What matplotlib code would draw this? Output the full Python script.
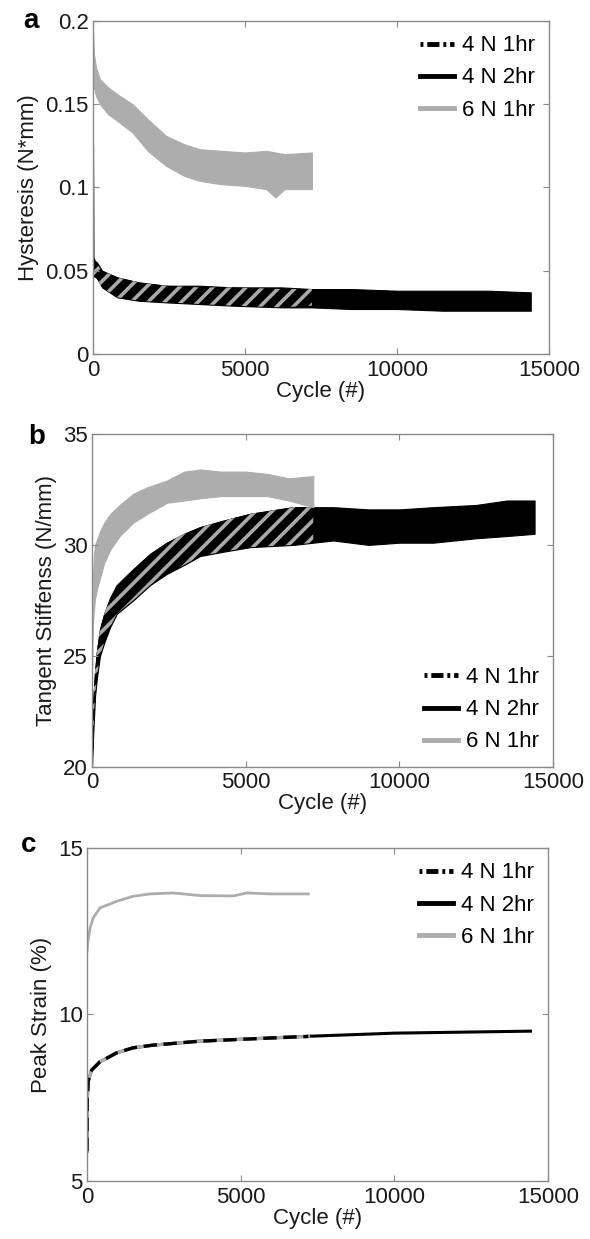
import numpy as np
import matplotlib
matplotlib.use("Agg")
import matplotlib.pyplot as plt
from matplotlib.lines import Line2D

plt.rcParams['font.family'] = ['Liberation Sans', 'DejaVu Sans']
plt.rcParams['hatch.linewidth'] = 2.6

GRAY = '#adadad'
STRIPE = '#a9a9a9'
SPINE = '#8a8a8a'
FS = 16

labels = ['4 N 1hr', '4 N 2hr', '6 N 1hr']

# ---- panel a: hysteresis (band = lower/upper envelope of noisy trace)
a_6n_cyc = [0, 30, 100, 230, 500, 800, 1300, 1800, 2400, 3000, 3500, 4200, 5000, 5700, 6000, 6300, 7200]
a_6n_hi = [0.193, 0.180, 0.172, 0.165, 0.160, 0.156, 0.150, 0.141, 0.131, 0.126, 0.123, 0.122, 0.121, 0.122, 0.121, 0.120, 0.121]
a_6n_lo = [0.170, 0.160, 0.155, 0.150, 0.144, 0.140, 0.133, 0.122, 0.113, 0.107, 0.104, 0.102, 0.101, 0.099, 0.094, 0.099, 0.099]

a_2h_cyc = [0, 15, 60, 130, 300, 800, 1500, 2400, 3500, 4600, 6200, 7200, 8500, 10000, 11500, 13000, 14400]
a_2h_hi = [0.125, 0.058, 0.056, 0.055, 0.050, 0.046, 0.043, 0.041, 0.041, 0.040, 0.040, 0.039, 0.039, 0.038, 0.038, 0.038, 0.037]
a_2h_lo = [0.050, 0.050, 0.048, 0.046, 0.040, 0.034, 0.032, 0.031, 0.030, 0.029, 0.028, 0.028, 0.027, 0.027, 0.026, 0.026, 0.026]

a_1h_cyc = [0, 60, 130, 300, 800, 1500, 2400, 3500, 4600, 6200, 7200]
a_1h_hi = [0.056, 0.056, 0.054, 0.050, 0.046, 0.043, 0.041, 0.040, 0.040, 0.039, 0.039]
a_1h_lo = [0.046, 0.046, 0.045, 0.040, 0.034, 0.032, 0.031, 0.030, 0.029, 0.028, 0.029]

# ---- panel b: tangent stiffness
b_6n_cyc = [0, 10, 30, 60, 100, 180, 260, 400, 600, 900, 1340, 1800, 2440, 3000, 3520, 4200, 5000, 5700, 6400, 7200]
b_6n_hi = [24.4, 27.0, 28.5, 29.5, 30.0, 30.3, 30.6, 31.0, 31.4, 31.8, 32.3, 32.6, 32.9, 33.3, 33.4, 33.3, 33.3, 33.2, 33.0, 33.1]
b_6n_lo = [24.4, 25.5, 26.5, 27.0, 27.6, 28.1, 28.5, 29.2, 29.8, 30.4, 31.0, 31.4, 31.9, 32.0, 32.1, 32.2, 32.2, 32.2, 32.0, 31.7]

b_2h_cyc = [0, 40, 100, 160, 260, 400, 590, 810, 1340, 1900, 2440, 3000, 3520, 4300, 5150, 6550, 7200, 7850, 9000, 10000, 11100, 12500, 13500, 14400]
b_2h_hi = [20.5, 23.0, 24.3, 25.2, 26.2, 26.9, 27.6, 28.2, 28.9, 29.6, 30.1, 30.5, 30.8, 31.1, 31.4, 31.7, 31.7, 31.7, 31.6, 31.6, 31.7, 31.8, 32.0, 32.0]
b_2h_lo = [20.0, 21.5, 23.2, 24.0, 25.0, 25.6, 26.3, 26.9, 27.5, 28.2, 28.7, 29.1, 29.5, 29.7, 29.9, 30.0, 30.1, 30.2, 30.0, 30.1, 30.1, 30.3, 30.4, 30.5]

b_1h_cyc = [0, 40, 100, 160, 260, 400, 590, 810, 1340, 1900, 2440, 3000, 3520, 4300, 5150, 6550, 7200]
b_1h_hi = [20.5, 23.0, 24.3, 25.2, 26.2, 26.9, 27.6, 28.2, 28.9, 29.6, 30.1, 30.5, 30.8, 31.1, 31.4, 31.7, 31.7]
b_1h_lo = [20.0, 21.5, 23.2, 24.0, 25.0, 25.6, 26.3, 26.9, 27.5, 28.2, 28.7, 29.1, 29.5, 29.7, 29.9, 30.0, 30.1]

# ---- panel c: peak strain
c_6n_cyc = [0, 30, 100, 200, 420, 970, 1500, 2050, 2800, 3680, 4760, 5200, 6000, 7200]
c_6n = [11.9, 12.2, 12.6, 12.9, 13.2, 13.4, 13.55, 13.62, 13.65, 13.57, 13.56, 13.65, 13.62, 13.62]

c_2h_cyc = [0, 10, 40, 150, 420, 970, 1500, 2150, 3680, 5860, 6740, 10000, 14430]
c_2h = [5.9, 7.5, 8.0, 8.33, 8.58, 8.85, 9.0, 9.08, 9.2, 9.29, 9.33, 9.44, 9.5]

c_1h_cyc = [0, 10, 40, 150, 420, 970, 1500, 2150, 3680, 5860, 7200]
c_1h = [5.9, 7.5, 8.0, 8.33, 8.58, 8.85, 9.0, 9.08, 9.2, 9.29, 9.34]


fig = plt.figure(figsize=(5.9, 12.39), dpi=100)
ax_a = fig.add_axes([0.1576, 0.7143, 0.7729, 0.2688])
ax_b = fig.add_axes([0.1559, 0.3810, 0.7814, 0.2688])
ax_c = fig.add_axes([0.1475, 0.0468, 0.7814, 0.2688])


def style(ax, ylim, yticks, ylab, letter, lab_x, let_xy):
    ax.set_xlim(0, 15000)
    ax.set_ylim(*ylim)
    ax.set_xticks([0, 5000, 10000, 15000])
    ax.set_xticklabels(['0', '5000', '10000', '15000'])
    ax.set_yticks(yticks)
    for s in ax.spines.values():
        s.set_color(SPINE)
        s.set_linewidth(1.0)
    ax.tick_params(direction='in', length=4, width=0.8, color=SPINE,
                   top=True, right=True, labelsize=FS, labelcolor='#1a1a1a')
    ax.tick_params(axis='x', pad=4)
    ax.tick_params(axis='y', pad=3)
    ax.set_xlabel('Cycle (#)', fontsize=FS, labelpad=0, color='#1a1a1a')
    ax.set_ylabel(ylab, fontsize=FS, color='#1a1a1a')
    ax.yaxis.set_label_coords(lab_x, 0.5)
    ax.text(let_xy[0], let_xy[1], letter, transform=ax.transAxes, fontsize=20,
            fontweight='bold', ha='center', va='center')


def legend(ax, loc, anchor):
    handles = [
        Line2D([], [], color='black', lw=3.5, ls=(0, (0.6, 0.8, 2.5, 0.8))),
        Line2D([], [], color='black', lw=3.5),
        Line2D([], [], color=GRAY, lw=3.5),
    ]
    ax.legend(handles, labels, loc=loc, bbox_to_anchor=anchor, frameon=False,
              fontsize=FS, handlelength=1.5, handletextpad=0.35, labelspacing=0.5,
              borderaxespad=0.25)


# panel a
ax_a.fill_between(a_2h_cyc, a_2h_lo, a_2h_hi, facecolor='black', edgecolor='black', lw=0.8)
ax_a.fill_between(a_1h_cyc, a_1h_lo, a_1h_hi, facecolor='black', edgecolor=STRIPE,
                  hatch='//', lw=0)
ax_a.fill_between(a_6n_cyc, a_6n_lo, a_6n_hi, facecolor=GRAY, edgecolor=GRAY, lw=0.8)
style(ax_a, (0, 0.2), [0, 0.05, 0.1, 0.15, 0.2], 'Hysteresis (N*mm)', 'a',
      -0.118, (-0.136, 1.0))
ax_a.set_yticklabels(['0', '0.05', '0.1', '0.15', '0.2'])
legend(ax_a, 'upper right', (1.0, 1.0))

# panel b
ax_b.fill_between(b_2h_cyc, b_2h_lo, b_2h_hi, facecolor='black', edgecolor='black', lw=0.8)
ax_b.fill_between(b_1h_cyc, b_1h_lo, b_1h_hi, facecolor='black', edgecolor=STRIPE,
                  hatch='//', lw=0)
ax_b.fill_between(b_6n_cyc, b_6n_lo, b_6n_hi, facecolor=GRAY, edgecolor=GRAY, lw=0.8)
style(ax_b, (20, 35), [20, 25, 30, 35], 'Tangent Stiffenss (N/mm)', 'b',
      -0.076, (-0.121, 0.99))
legend(ax_b, 'lower right', (1.0, 0.0))

# panel c
ax_c.plot(c_2h_cyc, c_2h, color='black', lw=2.2)
ax_c.plot(c_1h_cyc, c_1h, color=GRAY, lw=2.4)
ax_c.plot(c_1h_cyc, c_1h, color='black', lw=2.4, ls=(0, (4, 2)))
ax_c.plot(c_6n_cyc, c_6n, color=GRAY, lw=2.0)
style(ax_c, (5, 15), [5, 10, 15], 'Peak Strain (%)', 'c',
      -0.076, (-0.126, 1.01))
legend(ax_c, 'upper right', (1.0, 1.0))

fig.savefig('out.png', dpi=100)
